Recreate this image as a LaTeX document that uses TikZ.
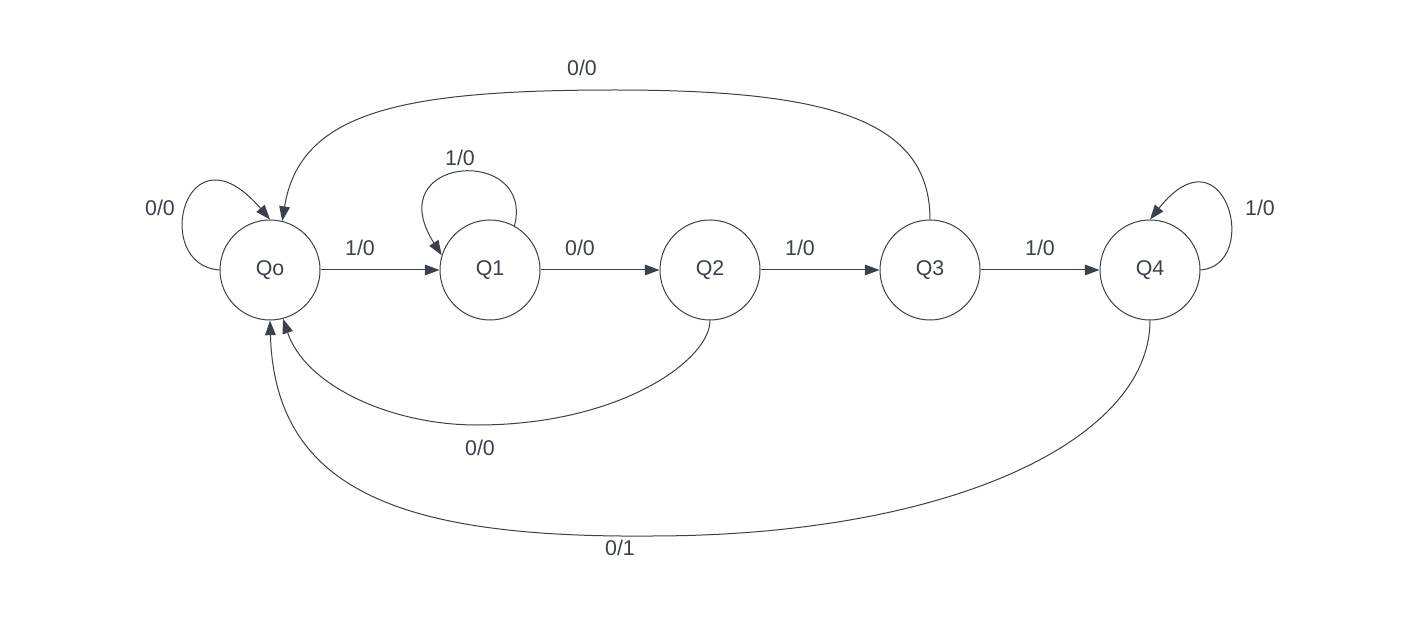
\documentclass[tikz,border=0pt]{standalone}
\usepackage{fontspec}
\setmainfont{Liberation Sans}
\usetikzlibrary{arrows.meta}
\definecolor{ink}{HTML}{3A414A}
\begin{document}
\begin{tikzpicture}[x=0.75pt,y=-0.75pt,
  state/.style={circle,draw=ink,line width=0.75pt,minimum size=75pt,inner sep=0pt,
    font=\fontsize{16}{19}\selectfont,text=ink},
  edge/.style={draw=ink,line width=0.75pt,-{Triangle[length=11pt,width=8pt]}},
  lbl/.style={font=\fontsize{16}{19}\selectfont,text=ink,inner sep=0pt}]
\useasboundingbox[fill=white] (0,0) rectangle (1420,620);

% states
\node[state] (q0) at (270,270) {Qo};
\node[state] (q1) at (490,270) {Q1};
\node[state] (q2) at (710,270) {Q2};
\node[state] (q3) at (930,270) {Q3};
\node[state] (q4) at (1150,270) {Q4};

% forward transitions
\draw[edge] (q0) -- (q1);
\draw[edge] (q1) -- (q2);
\draw[edge] (q2) -- (q3);
\draw[edge] (q3) -- (q4);

% self loops
\draw[edge] (q0.west) .. controls (150,265) and (185,120) .. (q0.north);
\draw[edge] (q1.61) .. controls (535,145) and (378,155) .. (q1.163);
\draw[edge] (q4.east) .. controls (1262,265) and (1225,125) .. (q4.north);

% return transitions to Qo
\draw[edge] (q3.north) .. controls (930,120) and (830,90) .. (615,90)
  .. controls (400,90) and (300,112) .. (q0.76);
\draw[edge] (q2.south) .. controls (710,360) and (620,425) .. (477,425)
  .. controls (390,425) and (305,385) .. (q0.-75);
\draw[edge] (q4.south) .. controls (1150,440) and (950,536) .. (650,536)
  .. controls (400,538) and (275,490) .. (q0.south);

% transition labels
\node[lbl] (t00a) at (160,208) {0/0};
\node[lbl] (t01) at (360,248) {1/0};
\node[lbl] (t11) at (460,158) {1/0};
\node[lbl] (t12) at (580,248) {0/0};
\node[lbl] (t23) at (800,248) {1/0};
\node[lbl] (t34) at (1040,248) {1/0};
\node[lbl] (t44) at (1260,208) {1/0};
\node[lbl] (t30) at (582,68) {0/0};
\node[lbl] (t20) at (480,448) {0/0};
\node[lbl] (t40) at (620,548) {0/1};
\end{tikzpicture}
\end{document}
